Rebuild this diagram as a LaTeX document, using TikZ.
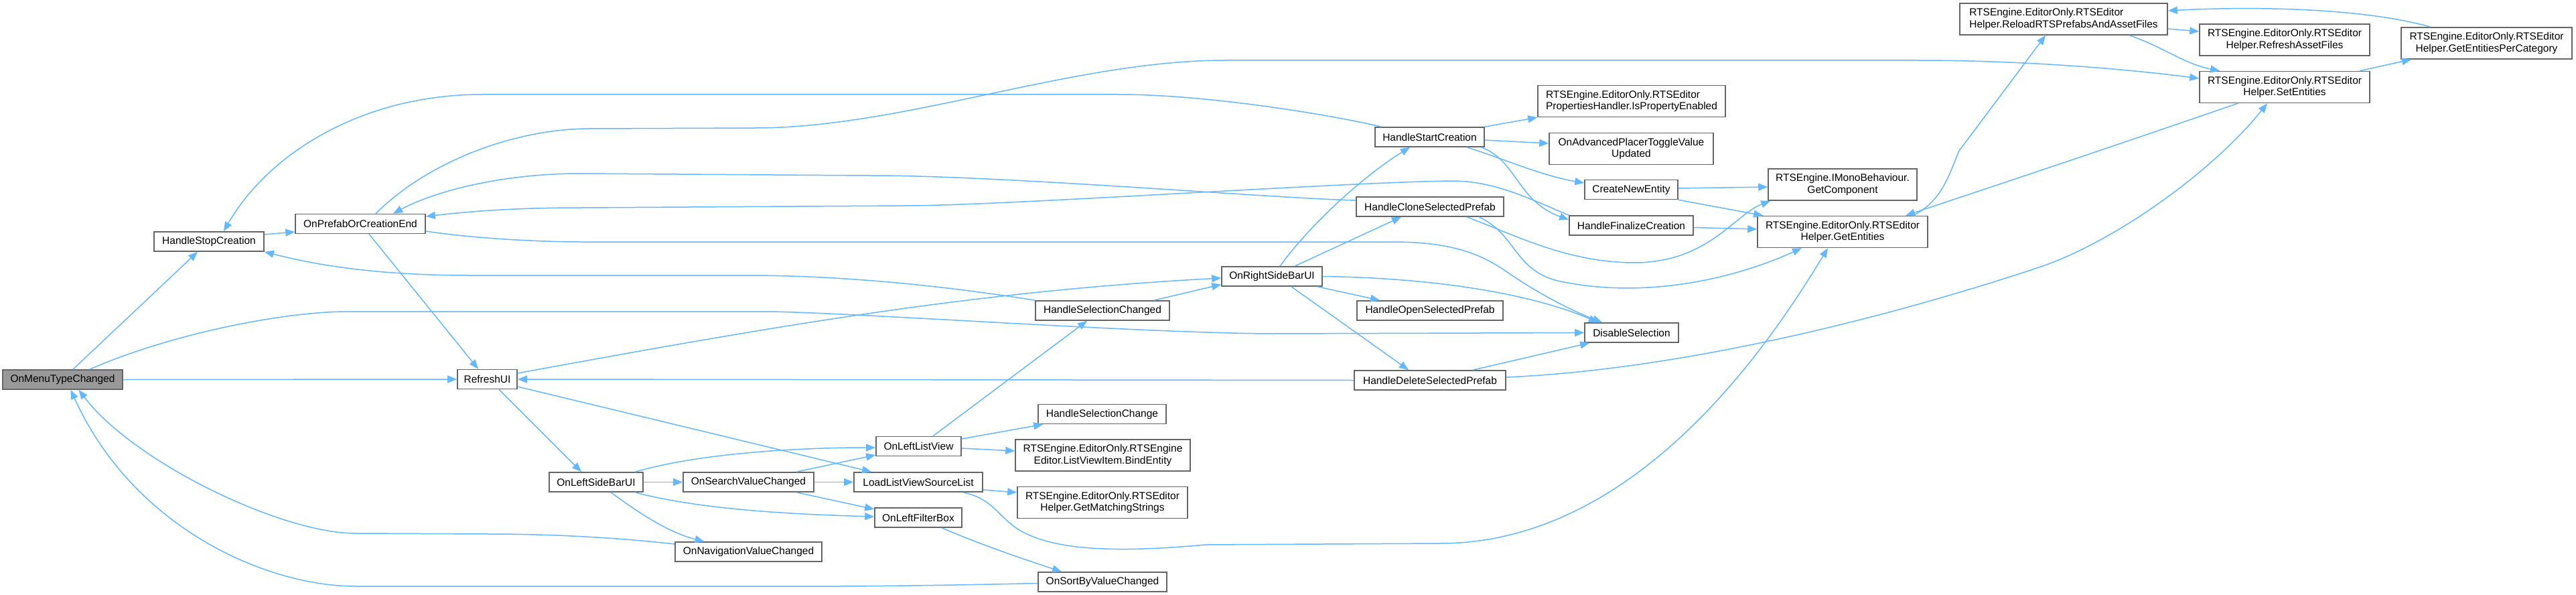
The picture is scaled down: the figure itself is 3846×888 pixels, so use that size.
\documentclass[tikz,border=0pt]{standalone}
\usepackage{fontspec}
\setmainfont{Liberation Sans}
\usetikzlibrary{arrows.meta}
\definecolor{edgec}{HTML}{63B8FF}
\definecolor{nodeb}{HTML}{666666}
\definecolor{rootf}{HTML}{999999}
\newcommand\dxfont{\fontsize{15.5}{17.7}\selectfont}
\tikzset{
 fn/.style={draw=nodeb, fill=white, line width=1.6pt, inner sep=0pt, font=\dxfont, align=center, minimum height=29},
 fn2/.style={fn, minimum height=47},
 root/.style={fn, fill=rootf},
 e/.style={draw=edgec, line width=1.5pt, -{Triangle[length=14pt,width=11pt]}},
}
\begin{document}
\begin{tikzpicture}[x=1pt,y=-1pt]
\fill[white] (0,0) rectangle (3846,888);
\useasboundingbox (0,0) rectangle (3846,888);
% nodes
\node[root, minimum width=179] (mtc) at (93.5,566.5) {OnMenuTypeChanged};
\node[fn, minimum width=164] (hstop) at (312,360.5) {HandleStopCreation};
\node[fn, minimum width=194] (opce) at (538,334) {OnPrefabOrCreationEnd};
\node[fn, minimum width=89] (rui) at (727.5,566) {RefreshUI};
\node[fn, minimum width=140] (olsb) at (890,719.5) {OnLeftSideBarUI};
\node[fn, minimum width=195] (osvc) at (1117.5,719.5) {OnSearchValueChanged};
\node[fn, minimum width=219] (onvc) at (1117.5,823.5) {OnNavigationValueChanged};
\node[fn, minimum width=127] (ollv) at (1371.5,666) {OnLeftListView};
\node[fn, minimum width=192] (llvs) at (1371,719.5) {LoadListViewSourceList};
\node[fn, minimum width=130] (olfb) at (1371,772.5) {OnLeftFilterBox};
\node[fn, minimum width=200] (hsc) at (1646,463.5) {HandleSelectionChanged};
\node[fn, minimum width=191] (hscg) at (1645.5,618) {HandleSelectionChange};
\node[fn2, minimum width=261] (bind) at (1646.5,679.5) {RTSEngine.EditorOnly.RTSEngine\\Editor.ListViewItem.BindEntity};
\node[fn2, minimum width=254] (gms) at (1646,750) {RTSEngine.EditorOnly.RTSEditor\\Helper.GetMatchingStrings};
\node[fn, minimum width=192] (osbv) at (1646,868.5) {OnSortByValueChanged};
\node[fn, minimum width=150] (orsb) at (1899,412.5) {OnRightSideBarUI};
\node[fn, minimum width=163] (hstart) at (2134.5,204.5) {HandleStartCreation};
\node[fn, minimum width=220] (hclone) at (2135,308.5) {HandleCloneSelectedPrefab};
\node[fn, minimum width=218] (hopen) at (2135,463.5) {HandleOpenSelectedPrefab};
\node[fn, minimum width=226] (hdel) at (2135,567.5) {HandleDeleteSelectedPrefab};
\node[fn2, minimum width=280, align=left] (ipe) at (2436,151) {RTSEngine.EditorOnly.RTSEditor\\PropertiesHandler.IsPropertyEnabled};
\node[fn2, minimum width=245] (oapt) at (2435.5,222) {OnAdvancedPlacerToggleValue\\Updated};
\node[fn, minimum width=139] (cne) at (2435.5,283) {CreateNewEntity};
\node[fn, minimum width=185] (hfc) at (2435.5,336.5) {HandleFinalizeCreation};
\node[fn, minimum width=140] (ds) at (2436,496.5) {DisableSelection};
\node[fn2, minimum width=222] (gc) at (2751,275.5) {RTSEngine.IMonoBehaviour.\\GetComponent};
\node[fn2, minimum width=254] (ge) at (2751,346) {RTSEngine.EditorOnly.RTSEditor\\Helper.GetEntities};
\node[fn2, minimum width=310, align=left] (rr) at (3081,28.5) {RTSEngine.EditorOnly.RTSEditor\\Helper.ReloadRTSPrefabsAndAssetFiles};
\node[fn2, minimum width=254] (raf) at (3411,59.5) {RTSEngine.EditorOnly.RTSEditor\\Helper.RefreshAssetFiles};
\node[fn2, minimum width=254] (se) at (3411,130) {RTSEngine.EditorOnly.RTSEditor\\Helper.SetEntities};
\node[fn2, minimum width=255] (gepc) at (3712.5,64.5) {RTSEngine.EditorOnly.RTSEditor\\Helper.GetEntitiesPerCategory};
% edges
\draw[e] ([xshift=15.5]mtc.north) -- ([xshift=-17]hstop.south);
\draw[e] (mtc.east) -- (rui.west);
\draw[e] ([xshift=40.5]mtc.north) .. controls (250,500) and (420,465) .. (520,465) -- (1150,465) .. controls (1300,468) and (1700,497) .. (1900,498) -- (ds.west);
\draw[e] (hsc.north west) .. controls (1400,425) and (1250,411) .. (1113,411) -- (703,411) .. controls (560,411) and (470,395) .. (hstop.south east);
\draw[e] ([xshift=10]hstart.north west) .. controls (1980,170) and (1800,141) .. (1670,141) -- (720,141) .. controls (540,141) and (400,230) .. ([xshift=22]hstop.north);
\draw[e] ([yshift=10.5]hstop.east) -- ([yshift=-12]opce.west);
\draw[e] ([xshift=13]opce.south) -- ([xshift=-13.5]rui.north);
\draw[e] ([xshift=23]opce.north) .. controls (640,240) and (770,192) .. (881,192) -- (1127,191) .. controls (1350,191) and (1600,90) .. (1830,90) -- (2862,90) .. controls (3000,90) and (3150,100) .. ([yshift=13]se.west);
\draw[e] ([yshift=9.5]hclone.west) .. controls (1900,296) and (1500,262) .. (1300,262) -- (867,259) .. controls (750,259) and (650,285) .. ([xshift=49]opce.north);
\draw[e] (hfc.north west) .. controls (2280,295) and (2230,270) .. (2168,270) .. controls (2000,272) and (1500,307) .. (1350,307) -- (867,310) .. controls (750,310) and (680,318) .. ([yshift=11]opce.east);
\draw[e] ([yshift=-11]opce.east) .. controls (700,355) and (800,361) .. (868,361) -- (2079,361) .. controls (2180,361) and (2220,385) .. (2256,410) .. controls (2300,440) and (2350,465) .. ([xshift=-44]ds.north);
\draw[e] ([yshift=9]rui.east) .. controls (1150,488) and (1450,435) .. ([yshift=-2.5]orsb.west);
\draw[e] ([xshift=77]hsc.north) -- ([yshift=-12]orsb.west);
\draw[e] ([xshift=12]orsb.north) .. controls (1960,330) and (2040,260) .. ([xshift=-29.5]hstart.south);
\draw[e] ([xshift=34]orsb.north) -- ([xshift=-43]hclone.south);
\draw[e] ([xshift=68]orsb.south) -- ([xshift=-75]hopen.north);
\draw[e] ([xshift=29]orsb.south) -- ([xshift=-32]hdel.north);
\draw[e] (orsb.east) .. controls (2150,415) and (2290,440) .. ([xshift=-50]ds.north);
\draw[e] (hstart.north east) -- (ipe.south west);
\draw[e] ([yshift=-4.5]hstart.east) -- ([yshift=8]oapt.west);
\draw[e] ([xshift=55.5]hstart.south) .. controls (2240,235) and (2300,262) .. ([yshift=10]cne.west);
\draw[e] ([xshift=-5]hstart.south east) .. controls (2265,240) and (2265,300) .. ([yshift=8.5]hfc.west);
\draw[e] ([yshift=-3]hfc.east) -- ([yshift=4]ge.west);
\draw[e] ([yshift=2]cne.east) -- ([yshift=-3.5]gc.west);
\draw[e] (cne.south east) -- ([xshift=9]ge.north west);
\draw[e] ([xshift=55]hclone.south) .. controls (2260,350) and (2340,392) .. (2440,392) .. controls (2550,392) and (2590,320) .. ([xshift=4]gc.south west);
\draw[e] ([xshift=73]hclone.south) .. controls (2265,350) and (2260,405) .. (2330,420) .. controls (2450,445) and (2580,420) .. ([xshift=-61]ge.south);
\draw[e] ([xshift=66]llvs.south) .. controls (1490,745) and (1490,780) .. (1540,800) .. controls (1600,825) and (1700,822) .. (1800,813) -- (2150,811) .. controls (2450,811) and (2650,500) .. ([xshift=-22]ge.south);
\draw[e] ([xshift=-70]se.south) .. controls (3150,220) and (3000,270) .. ([xshift=94]ge.north);
\draw[e] ([xshift=105]ge.north) .. controls (2900,300) and (2910,260) .. (2925,225) -- ([xshift=-27]rr.south);
\draw[e] ([yshift=-14.5]rr.east) -- ([yshift=12.5]raf.west);
\draw[e] ([xshift=98]rr.south) .. controls (3230,70) and (3260,95) .. ([xshift=-97]se.north);
\draw[e] ([xshift=112]se.north) -- ([xshift=-112.5]gepc.south);
\draw[e] ([xshift=-83.5]gepc.north) .. controls (3520,10) and (3350,10) .. ([yshift=12.5]rr.east);
\draw[e] ([xshift=64]hdel.north) -- ([xshift=8]ds.south west);
\draw[e] ([yshift=4.5]hdel.east) .. controls (2500,552) and (2800,480) .. (3041,400) .. controls (3150,365) and (3300,260) .. ([xshift=-26]se.south);
\draw[e] (hdel.west) -- (rui.east);
\draw[e] ([xshift=17.5]rui.south) -- ([xshift=-22]olsb.north);
\draw[e] ([yshift=-11]rui.east) -- ([xshift=-70]llvs.north);
\draw[e] ([xshift=58]olsb.north) .. controls (1050,675) and (1200,668) .. ([yshift=-2]ollv.west);
\draw[e] ([xshift=71.5]osvc.north) -- ([yshift=-13]ollv.west);
\draw[e] (olsb.east) -- (osvc.west);
\draw[e] (osvc.east) -- (llvs.west);
\draw[e] ([xshift=58]olsb.south) .. controls (1050,762) and (1200,768) .. ([yshift=1.5]olfb.west);
\draw[e] ([xshift=71.5]osvc.south) -- ([yshift=12.5]olfb.west);
\draw[e] ([xshift=22]olsb.south) .. controls (960,770) and (1000,795) .. ([xshift=-66]onvc.north);
\draw[e] ([yshift=11.5]onvc.west) .. controls (900,800) and (800,797) .. (730,797) -- (531,796) .. controls (420,796) and (200,690) .. ([xshift=24]mtc.south);
\draw[e] ([yshift=-2]osbv.west) .. controls (1450,873) and (1300,875) .. (1250,875) -- (531,875) .. controls (400,875) and (200,790) .. ([xshift=12]mtc.south);
\draw[e] ([xshift=35]olfb.south) .. controls (1470,815) and (1530,835) .. ([xshift=-61]osbv.north);
\draw[e] ([xshift=21.5]ollv.north) -- ([xshift=-23]hsc.south);
\draw[e] ([yshift=11]ollv.east) -- ([xshift=8]hscg.south west);
\draw[e] ([yshift=-3]ollv.east) -- ([yshift=6.5]bind.west);
\draw[e] ([yshift=-11.5]llvs.east) -- ([yshift=15]gms.west);
\end{tikzpicture}
\end{document}
